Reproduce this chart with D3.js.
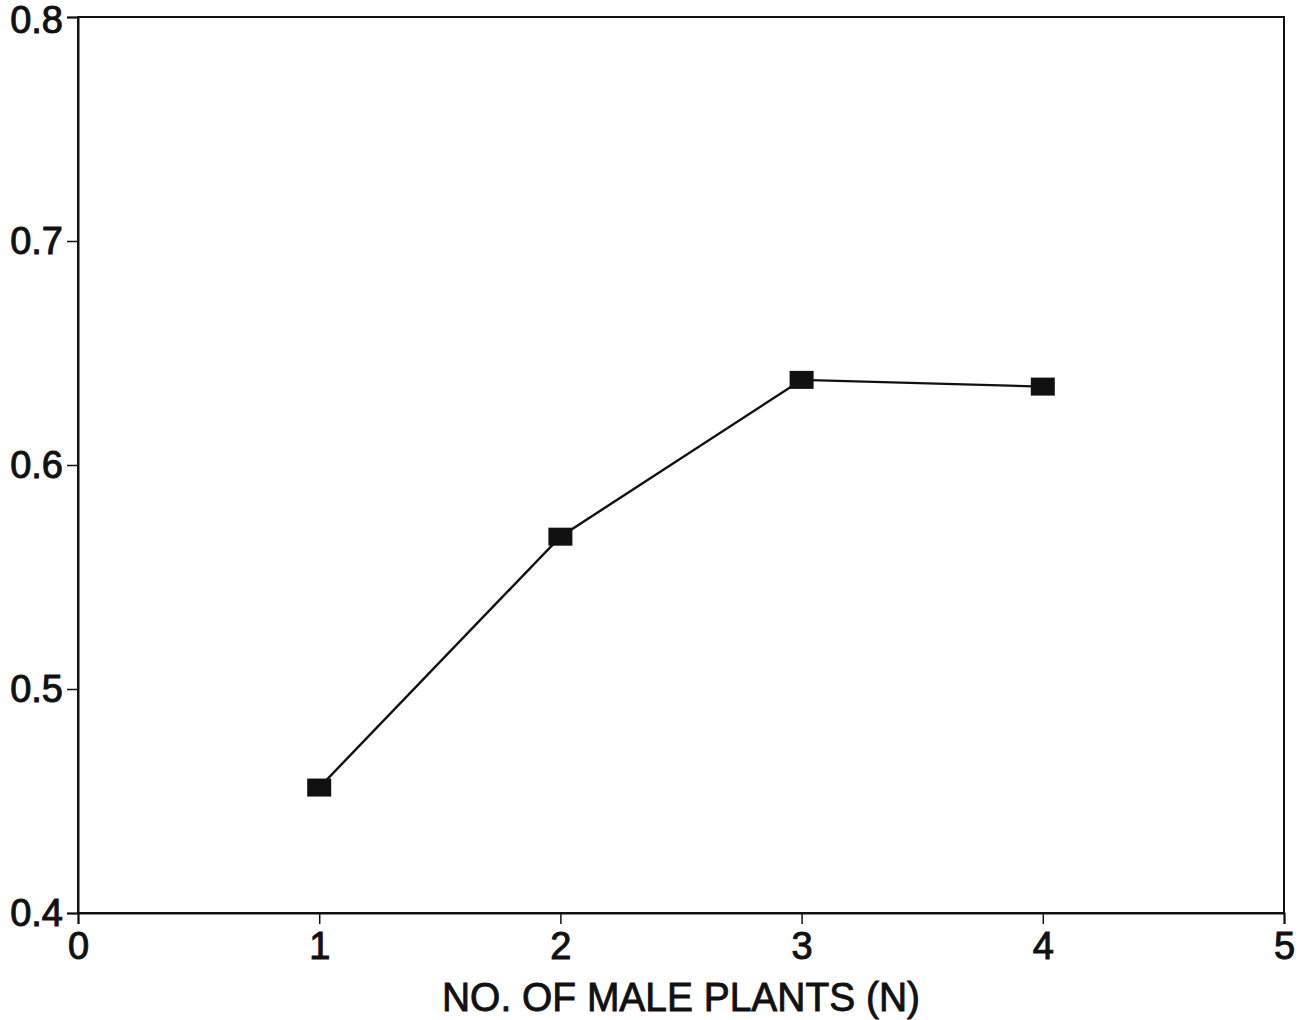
<!DOCTYPE html>
<html>
<head>
<meta charset="utf-8">
<script src="https://cdn.jsdelivr.net/npm/d3@7"></script>
<style>
  html, body { margin: 0; padding: 0; background: #fff; }
  svg { display: block; }
  text { font-family: "Liberation Sans", Arial, sans-serif; fill: #111; }
</style>
</head>
<body>
<svg id="chart" width="1310" height="1020"></svg>
<script>
const maleCounts = [1, 2, 3, 4];
const values = [0.456, 0.568, 0.638, 0.635];
const xTicks = [0, 1, 2, 3, 4, 5];
const yTicks = [0.4, 0.5, 0.6, 0.7, 0.8];
const xLabel = "NO. OF MALE PLANTS (N)";

const svg = d3.select("#chart");
const m = { left: 78, right: 1284, top: 17, bottom: 913 };

const x = d3.scaleLinear().domain([0, 5]).range([m.left, m.right]);
const y = d3.scaleLinear().domain([0.4, 0.8]).range([m.bottom, m.top]);

// frame (top and right)
svg.append("rect")
  .attr("x", m.left).attr("y", m.top)
  .attr("width", m.right - m.left).attr("height", m.bottom - m.top)
  .attr("fill", "none").attr("stroke", "#111").attr("stroke-width", 2);

const xAxis = svg.append("g")
  .attr("transform", `translate(0,${m.bottom})`)
  .call(d3.axisBottom(x).tickValues(xTicks).tickFormat(d3.format("d")).tickSize(11).tickPadding(8));
xAxis.select(".domain").attr("stroke", "#111").attr("stroke-width", 2);
xAxis.selectAll(".tick line").attr("stroke", "#111").attr("stroke-width", 1.5);
xAxis.selectAll(".tick text")
  .attr("font-size", 38).attr("fill", "#111").attr("stroke", "#111").attr("stroke-width", 1)
  .attr("font-family", "Liberation Sans, Arial, sans-serif");

const yAxis = svg.append("g")
  .attr("transform", `translate(${m.left},0)`)
  .call(d3.axisLeft(y).tickValues(yTicks).tickFormat(d3.format(".1f")).tickSize(11).tickPadding(4));
yAxis.select(".domain").attr("stroke", "#111").attr("stroke-width", 2);
yAxis.selectAll(".tick line").attr("stroke", "#111").attr("stroke-width", 1.5);
yAxis.selectAll(".tick text")
  .attr("font-size", 38).attr("fill", "#111").attr("stroke", "#111").attr("stroke-width", 1)
  .attr("font-family", "Liberation Sans, Arial, sans-serif")
  .attr("dy", d => d === 0.8 ? "0.42em" : "0.32em");

// x axis title
svg.append("text")
  .attr("x", (442 + 920) / 2).attr("y", 1011)
  .attr("text-anchor", "middle")
  .attr("font-size", 41)
  .attr("textLength", 478).attr("lengthAdjust", "spacingAndGlyphs")
  .attr("stroke", "#111").attr("stroke-width", 0.9)
  .text(xLabel);

// data line
const data = maleCounts.map((n, i) => ({ n, v: values[i] }));
svg.append("path")
  .datum(data)
  .attr("fill", "none").attr("stroke", "#111").attr("stroke-width", 2.4)
  .attr("d", d3.line().x(d => x(d.n)).y(d => y(d.v)));

// markers
svg.selectAll("rect.marker").data(data).enter().append("rect")
  .attr("class", "marker")
  .attr("x", d => x(d.n) - 12).attr("y", d => y(d.v) - 9)
  .attr("width", 24).attr("height", 18)
  .attr("fill", "#111");
</script>
</body>
</html>
